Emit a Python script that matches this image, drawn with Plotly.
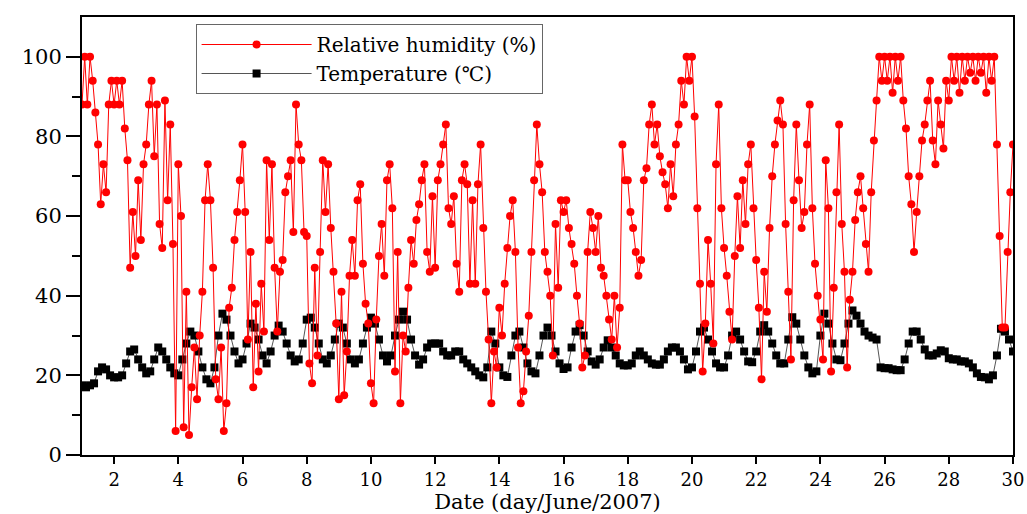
import plotly.graph_objects as go

# Relative humidity (%), sampled every 2 h from day 1.0 to day 30.0
humidity = [
    88, 100, 88, 100, 94, 86, 78, 63, 73, 66, 88, 94,
    88, 94, 88, 94, 82, 74, 47, 61, 50, 69, 54, 73,
    78, 88, 94, 75, 88, 58, 52, 89, 64, 83, 53, 6,
    73, 60, 7, 41, 5, 17, 27, 14, 30, 41, 64, 73,
    64, 47, 19, 14, 27, 6, 13, 37, 42, 54, 61, 69,
    78, 61, 29, 51, 17, 38, 21, 43, 31, 74, 54, 73,
    47, 31, 46, 49, 66, 70, 74, 56, 88, 78, 74, 56,
    55, 23, 18, 47, 25, 51, 74, 61, 73, 57, 46, 33,
    14, 41, 15, 26, 45, 54, 45, 64, 68, 48, 38, 33,
    18, 13, 34, 50, 58, 45, 69, 73, 62, 21, 51, 13,
    30, 26, 42, 54, 48, 59, 63, 69, 73, 51, 46, 65,
    47, 69, 73, 78, 83, 62, 58, 65, 48, 41, 69, 73,
    68, 43, 64, 43, 68, 78, 57, 41, 29, 13, 26, 22,
    37, 30, 43, 52, 60, 64, 51, 27, 13, 16, 26, 35,
    51, 69, 83, 73, 66, 51, 46, 40, 25, 58, 42, 64,
    61, 64, 57, 53, 48, 40, 33, 22, 25, 51, 61, 57,
    51, 60, 47, 45, 40, 34, 29, 40, 27, 37, 78, 69,
    69, 61, 57, 51, 45, 49, 69, 72, 83, 88, 78, 83,
    75, 71, 68, 62, 73, 65, 78, 83, 94, 88, 100, 94,
    100, 85, 62, 43, 21, 33, 54, 43, 28, 73, 88, 62,
    52, 45, 36, 29, 50, 65, 52, 69, 58, 73, 78, 62,
    49, 37, 19, 46, 36, 57, 70, 78, 84, 89, 83, 58,
    41, 24, 64, 83, 69, 57, 61, 78, 88, 62, 48, 40,
    34, 24, 74, 62, 21, 42, 66, 83, 58, 46, 22, 39,
    46, 59, 66, 70, 62, 53, 46, 66, 79, 89, 100, 94,
    100, 94, 100, 91, 100, 94, 100, 89, 82, 70, 63, 51,
    61, 70, 79, 83, 89, 94, 79, 73, 89, 83, 77, 94,
    89, 100, 94, 100, 91, 100, 94, 100, 96, 100, 94, 100,
    96, 100, 91, 100, 94, 100, 78, 55, 32, 32, 51, 66,
    78,
]

# Temperature (deg C), sampled every 3 h from day 1.0 to day 30.0
temperature = [
    17.5, 17, 17.5, 18, 21, 22, 21.5, 20,
    19.5, 19.5, 20, 23, 26, 26.5, 24, 22,
    20.5, 21, 24, 27, 26, 24, 22, 20.5,
    20, 24, 28, 31, 30, 26, 22, 19,
    18, 22, 30, 35.5, 34, 30, 26, 23,
    24, 28, 33, 32, 29, 25, 23, 26,
    30, 32.5, 31, 28, 25, 23.5, 24, 28,
    34, 34.5, 32, 28, 24, 23, 25, 29,
    33, 32, 28, 24, 23, 24, 28, 32,
    34.5, 33, 29, 25, 23.5, 25, 30, 34,
    36, 34, 29, 25, 22.7, 24, 27, 28,
    28, 28, 26, 25, 25, 26, 26, 24,
    23, 22, 21, 20, 19.5, 22, 31, 28,
    22, 20, 19.6, 25, 30, 31, 27, 23,
    21, 20.5, 25, 30, 32, 30, 26, 23,
    21.6, 22, 27, 31, 32.6, 30, 26, 23.5,
    22.7, 24, 27, 28.8, 27, 25, 23, 22.5,
    22.5, 23, 25, 26, 25, 24, 23, 22.7,
    22.7, 24, 26, 27, 27, 26, 24, 21.5,
    22, 26, 31, 32, 29, 26, 23, 22,
    22, 25, 30, 31, 29, 26, 23.5, 23.3,
    26, 31, 32.6, 31, 28, 25, 23, 23,
    29, 34.6, 33, 29, 25, 22, 20.5, 21,
    30, 35.5, 33, 28, 24, 23.8, 28, 33,
    36.3, 35, 33, 31, 30, 29.5, 29, 22,
    21.8, 21.8, 21.5, 21.3, 21.3, 24, 28, 31,
    31, 29, 26.5, 25, 25, 25.5, 26.3, 26,
    24.3, 24, 24, 23.5, 23.5, 23, 22, 20.5,
    19.6, 19.5, 19, 20, 25, 31.7, 31, 29,
    26,
]

hum_days = [1 + i / 12 for i in range(len(humidity))]
temp_days = [1 + i / 8 for i in range(len(temperature))]

x_ticks = list(range(2, 31, 2))
y_ticks = list(range(0, 101, 20))

FONT = "DejaVu Serif, Liberation Serif, serif"

fig = go.Figure()

fig.add_trace(go.Scatter(
    x=temp_days, y=temperature, mode="lines+markers",
    name="Temperature (\u2103)",
    line=dict(color="#555555", width=1),
    marker=dict(symbol="square", size=8, color="black"),
    legendrank=2,
))

fig.add_trace(go.Scatter(
    x=hum_days, y=humidity, mode="lines+markers",
    name="Relative humidity (%)",
    line=dict(color="red", width=1),
    marker=dict(symbol="circle", size=8, color="red"),
    legendrank=1,
))

fig.update_layout(
    width=1027, height=514,
    margin=dict(l=82, r=14, t=17, b=59, autoexpand=False),
    plot_bgcolor="white", paper_bgcolor="white",
    font=dict(family=FONT, color="black", size=20),
    showlegend=True,
    legend=dict(
        x=0.122, y=0.984, xanchor="left", yanchor="top",
        bgcolor="white", bordercolor="#666666", borderwidth=1,
        font=dict(family=FONT, size=20, color="black"),
        itemwidth=110, tracegroupgap=0,
    ),
)

fig.update_xaxes(
    range=[1, 30], tickvals=x_ticks, ticktext=[str(v) for v in x_ticks],
    showgrid=False, zeroline=False, automargin=True,
    showline=True, linecolor="black", linewidth=2, mirror=True,
    ticks="outside", ticklen=7, tickwidth=2, tickcolor="black",
    tickfont=dict(family=FONT, size=18),
    title=dict(text="Date (day/June/2007)", font=dict(family=FONT, size=21), standoff=3),
)

fig.update_yaxes(
    range=[0, 110], tickvals=y_ticks, ticktext=[str(v) for v in y_ticks],
    showgrid=False, zeroline=False, automargin=False,
    showline=True, linecolor="black", linewidth=2, mirror=True,
    ticks="outside", ticklen=14, tickwidth=2, tickcolor="black",
    tickfont=dict(family=FONT, size=21),
    minor=dict(tickvals=[10, 30, 50, 70, 90], ticks="outside", ticklen=8,
               tickwidth=2, tickcolor="black"),
)

fig.write_html(
    "out.html",
    config={"displayModeBar": False},
    post_script="document.body.style.margin='0';document.body.style.overflow='hidden';",
)
